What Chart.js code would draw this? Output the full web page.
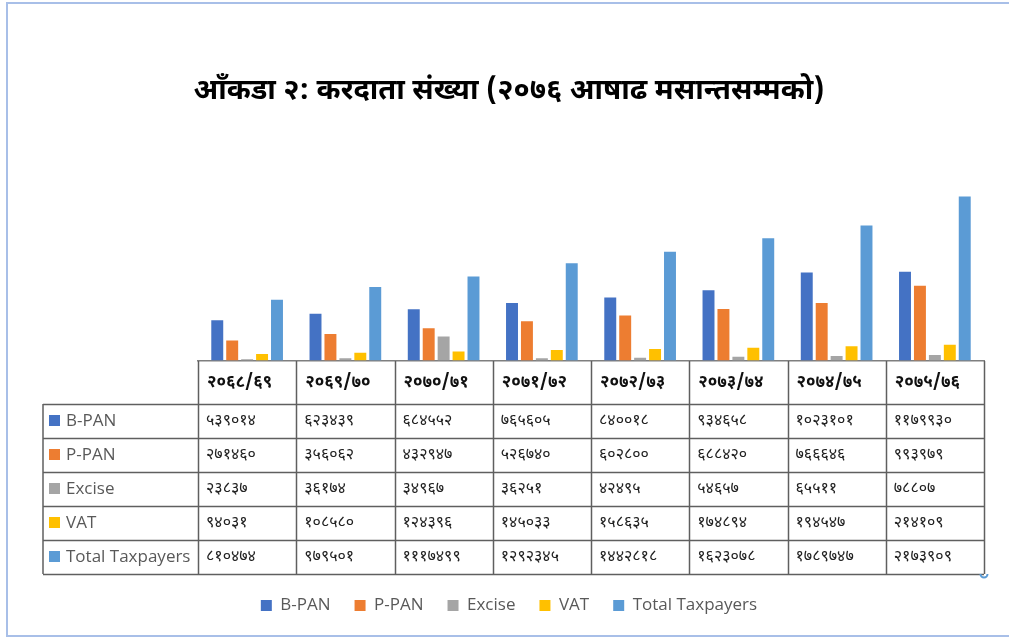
<!DOCTYPE html>
<html>
<head>
<meta charset="utf-8">
<script src="https://cdn.jsdelivr.net/npm/chart.js@4.4.1/dist/chart.umd.min.js"></script>
<style>
  body { margin: 0; background: #fff; }
  #wrap { position: relative; width: 1009px; height: 639px; overflow: hidden; }
  #frame { position: absolute; left: 6px; top: 2px; width: 1020px; height: 635px;
           border: 2px solid #a8bfe8; border-right: none; box-sizing: border-box; }
  canvas { position: absolute; left: 0; top: 0; }
</style>
</head>
<body>
<div id="wrap">
  <div id="frame"></div>
  <canvas id="taxChart" width="1009" height="639"></canvas>
</div>
<script>
// fiscal years (column headers of the data table)
const years = ["२०६८/६९", "२०६९/७०", "२०७०/७१", "२०७१/७२", "२०७२/७३", "२०७३/७४", "२०७४/७५", "२०७५/७६"];

// bar heights
const bPan = [539014, 623439, 684552, 765605, 840018, 934658, 1170000, 1179930];
const pPan = [271460, 356062, 432947, 526740, 602800, 688420, 766646, 993979];
const excise = [23837, 36174, 325000, 36251, 42495, 54657, 65511, 78807];
const vat = [94031, 108580, 124396, 145033, 158635, 174894, 194547, 214109];
const total = [810474, 979501, 1117499, 1292345, 1442818, 1623078, 1789747, 2173909];

// data table text, as printed
const bPanText = ["५३९०१४", "६२३४३९", "६८४५५२", "७६५६०५", "८४००१८", "९३४६५८", "१०२३१०१", "११७९९३०"];
const pPanText = ["२७१४६०", "३५६०६२", "४३२९४७", "५२६७४०", "६०२८००", "६८८४२०", "७६६६४६", "९९३९७९"];
const exciseText = ["२३८३७", "३६१७४", "३४९६७", "३६२५१", "४२४९५", "५४६५७", "६५५११", "७८८०७"];
const vatText = ["९४०३१", "१०८५८०", "१२४३९६", "१४५०३३", "१५८६३५", "१७४८९४", "१९४५४७", "२१४१०९"];
const totalText = ["८१०४७४", "९७९५०१", "१११७४९९", "१२९२३४५", "१४४२८१८", "१६२३०७८", "१७८९७४७", "२१७३९०९"];

const seriesNames = ["B-PAN", "P-PAN", "Excise", "VAT", "Total Taxpayers"];
const seriesColors = ["#4472C4", "#ED7D31", "#A5A5A5", "#FFC000", "#5B9BD5"];

const devaFont = "'Noto Sans Devanagari', 'Lohit Devanagari', 'Mangal', 'Noto Sans', sans-serif";
const latinFont = "'Open Sans', 'Noto Sans', sans-serif";

// Excel-style data table drawn under the plot area
const dataTablePlugin = {
  id: "dataTable",
  afterDraw: (chart) => {
    const ctx = chart.ctx;
    const area = chart.chartArea;
    const colW = (area.right - area.left) / years.length;
    const top = area.bottom;
    const headerH = 43;
    const rowH = 34;
    const labelLeft = 43;
    const rows = [bPanText, pPanText, exciseText, vatText, totalText];
    const bottom = top + headerH + rowH * rows.length;

    ctx.save();
    ctx.strokeStyle = "#5f5f5f";
    ctx.lineWidth = 1.5;

    // vertical lines of the value columns
    for (let i = 0; i <= years.length; i++) {
      const x = Math.round(area.left + colW * i) + 0.5;
      ctx.beginPath();
      ctx.moveTo(x, top);
      ctx.lineTo(x, bottom);
      ctx.stroke();
    }
    // left edge of the label column
    ctx.beginPath();
    ctx.moveTo(labelLeft, top + headerH);
    ctx.lineTo(labelLeft, bottom);
    ctx.stroke();
    // horizontal lines
    for (let r = 0; r <= rows.length; r++) {
      const y = Math.round(top + headerH + rowH * r) + 0.5;
      ctx.beginPath();
      ctx.moveTo(labelLeft, y);
      ctx.lineTo(area.right, y);
      ctx.stroke();
    }

    // header row
    ctx.textBaseline = "middle";
    ctx.textAlign = "left";
    ctx.fillStyle = "#111";
    ctx.font = "bold 17px " + devaFont;
    years.forEach((yr, i) => {
      ctx.fillText(yr, area.left + colW * i + 9, top + headerH / 2 + 1);
    });

    // body rows
    rows.forEach((vals, r) => {
      const cy = top + headerH + rowH * r + rowH / 2;
      ctx.fillStyle = seriesColors[r];
      ctx.fillRect(labelLeft + 6, cy - 6, 11, 11);
      ctx.fillStyle = "#595959";
      ctx.font = "17px " + latinFont;
      ctx.fillText(seriesNames[r], labelLeft + 23, cy);
      ctx.fillStyle = "#222";
      ctx.font = "16px " + devaFont;
      vals.forEach((v, i) => {
        ctx.fillText(v, area.left + colW * i + 8, cy + 1);
      });
    });

    // selection handle bits left over in the picture
    ctx.strokeStyle = "#5b9bd5";
    ctx.lineWidth = 2;
    ctx.beginPath();
    ctx.arc(area.right, bottom, 3.5, 0, Math.PI);
    ctx.stroke();
    ctx.restore();
  },
};

const datasets = [bPan, pPan, excise, vat, total].map((vals, i) => ({
  label: seriesNames[i],
  data: vals,
  backgroundColor: seriesColors[i],
  borderWidth: 0,
  categoryPercentage: 0.76,
  barPercentage: 0.8,
}));

new Chart(document.getElementById("taxChart").getContext("2d"), {
  type: "bar",
  data: {
    labels: years,
    datasets: datasets,
  },
  options: {
    responsive: false,
    animation: false,
    layout: {
      padding: { left: 9, right: 0, top: 0, bottom: 15 },
    },
    scales: {
      x: {
        border: { display: true, color: "#7f7f7f", width: 1.5 },
        grid: { display: false },
        ticks: { display: false },
        afterFit: (scale) => {
          scale.height = 212;
        },
      },
      y: {
        min: 0,
        max: 2250000,
        border: { display: false },
        grid: {
          drawTicks: false,
          lineWidth: 1.5,
          color: (c) => (c.tick.value > 0 && c.tick.value % 500000 === 0 ? "#d9d9d9" : "rgba(0,0,0,0)"),
        },
        ticks: { display: false, stepSize: 500000 },
        afterFit: (scale) => {
          scale.width = 189;
        },
      },
      // empty axis on the right, only to keep the plot off the right edge
      yRight: {
        position: "right",
        display: true,
        border: { display: false },
        grid: { display: false, drawTicks: false },
        ticks: { display: false },
        afterFit: (scale) => {
          scale.width = 25;
        },
      },
    },
    plugins: {
      title: {
        display: true,
        text: "आँकडा २: करदाता संख्या (२०७६ आषाढ मसान्तसम्मको)",
        color: "#000",
        font: { size: 29, weight: "bold", family: devaFont },
        padding: { top: 76, bottom: 80 },
      },
      legend: {
        display: true,
        position: "bottom",
        labels: {
          boxWidth: 11,
          boxHeight: 11,
          padding: 24,
          color: "#595959",
          font: { size: 17, family: latinFont },
        },
      },
      tooltip: { enabled: false },
    },
  },
  plugins: [dataTablePlugin],
});
</script>
</body>
</html>
